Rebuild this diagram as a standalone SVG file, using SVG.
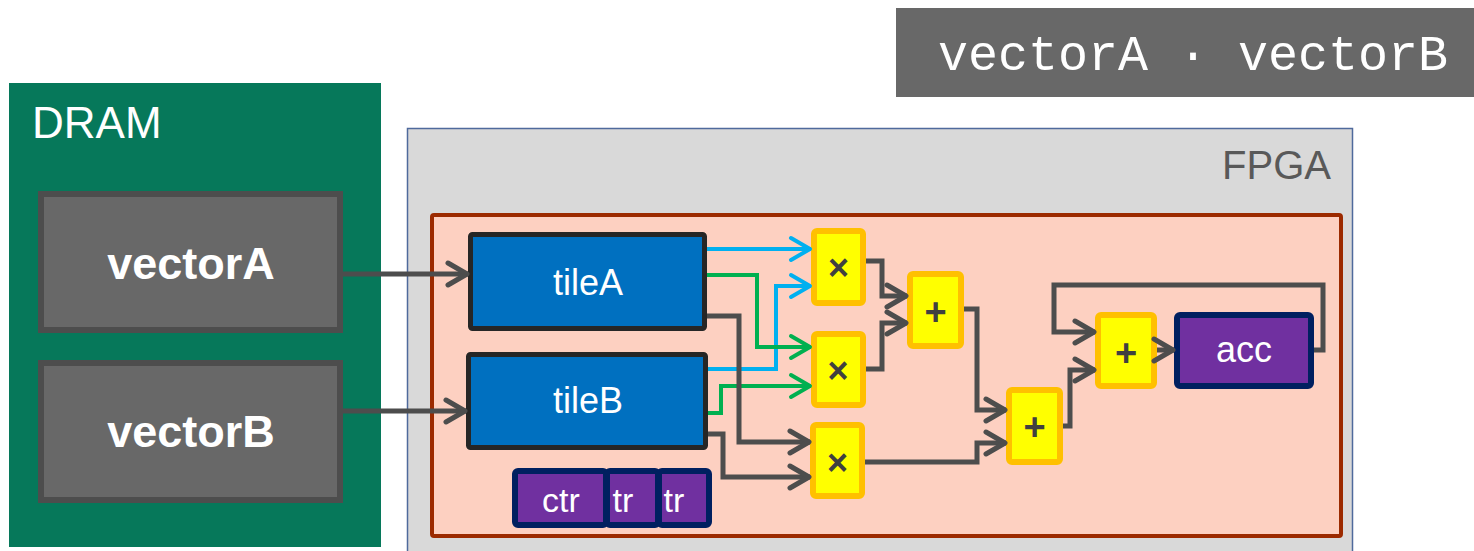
<svg xmlns="http://www.w3.org/2000/svg" width="1474" height="551" viewBox="0 0 1474 551">
<style>
.lbl{font-family:"Liberation Sans",Arial,sans-serif;fill:#fff;text-anchor:middle}
.op{font-family:"Liberation Sans",Arial,sans-serif;font-weight:bold;fill:#404040;text-anchor:middle}
.opbox{fill:#FFFF00;stroke:#FFC000;stroke-width:6}
.tile{fill:#0070C0;stroke:#262626;stroke-width:5}
.reg{fill:#7030A0;stroke:#002060;stroke-width:6}
.mem{fill:#686868;stroke:#4d4d4d;stroke-width:6}
.g{fill:none;stroke:#4d4d4d;stroke-width:5;stroke-linejoin:miter}
.b{fill:none;stroke:#00B0F0;stroke-width:4}
.gr{fill:none;stroke:#00B050;stroke-width:4}
</style>
<defs>
<marker id="ag" markerUnits="userSpaceOnUse" viewBox="-24 -14 28 28" refX="0" refY="0" markerWidth="28" markerHeight="28" orient="auto">
<path d="M-20,-11 L-1,0 L-20,11" fill="none" stroke="#4d4d4d" stroke-width="5" stroke-linecap="round" stroke-linejoin="round"/>
</marker>
<marker id="ab" markerUnits="userSpaceOnUse" viewBox="-24 -14 28 28" refX="0" refY="0" markerWidth="28" markerHeight="28" orient="auto">
<path d="M-20,-11 L-1,0 L-20,11" fill="none" stroke="#00B0F0" stroke-width="4" stroke-linecap="round" stroke-linejoin="round"/>
</marker>
<marker id="agr" markerUnits="userSpaceOnUse" viewBox="-24 -14 28 28" refX="0" refY="0" markerWidth="28" markerHeight="28" orient="auto">
<path d="M-20,-11 L-1,0 L-20,11" fill="none" stroke="#00B050" stroke-width="4" stroke-linecap="round" stroke-linejoin="round"/>
</marker>
</defs>
<rect width="1474" height="551" fill="#ffffff"/>

<g id="title">
<rect x="896" y="8" width="578" height="89" fill="#686868"/>
<text x="938" y="70" font-family="'Liberation Mono','DejaVu Sans Mono',monospace" font-size="50" fill="#ffffff">vectorA · vectorB</text>
</g>

<g id="dram">
<rect x="9" y="83" width="372" height="464" fill="#06785A"/>
<text x="32" y="138" font-family="'Liberation Sans',Arial,sans-serif" font-size="44" fill="#ffffff">DRAM</text>
</g>
<g id="vectorA">
<rect class="mem" x="41" y="194" width="299" height="136"/>
<text class="lbl" x="191" y="279" font-size="45" font-weight="bold">vectorA</text>
</g>
<g id="vectorB">
<rect class="mem" x="41" y="363" width="299" height="137"/>
<text class="lbl" x="191" y="447" font-size="45" font-weight="bold">vectorB</text>
</g>

<g id="fpga">
<rect x="407.5" y="128.5" width="945" height="440" fill="#D9D9D9" stroke="#4F6A9C" stroke-width="1.5"/>
<text x="1331" y="179" font-family="'Liberation Sans',Arial,sans-serif" font-size="40" fill="#595959" text-anchor="end">FPGA</text>
</g>
<g id="kernel">
<rect x="432" y="215" width="909" height="321" fill="#FDD0C1" stroke="#9C2A00" stroke-width="4" rx="2"/>
</g>

<g id="tileA">
<rect class="tile" x="470.5" y="234.5" width="234" height="94" rx="2"/>
<text class="lbl" x="588" y="295" font-size="36">tileA</text>
</g>
<g id="tileB">
<rect class="tile" x="468.5" y="354.5" width="237" height="93" rx="2"/>
<text class="lbl" x="588" y="413" font-size="36">tileB</text>
</g>

<g id="counters">
<rect class="reg" x="515" y="471" width="91" height="54" rx="3"/>
<text class="lbl" x="561" y="512" font-size="34">ctr</text>
<rect class="reg" x="607" y="471" width="51" height="54" rx="3"/>
<text class="lbl" x="623" y="512" font-size="34">tr</text>
<rect class="reg" x="659" y="471" width="50" height="54" rx="3"/>
<text class="lbl" x="674" y="512" font-size="34">tr</text>
</g>

<g id="mul1">
<rect class="opbox" x="814" y="231" width="49" height="72" rx="3"/>
<text class="op" x="838.5" y="280" font-size="36">×</text>
</g>
<g id="mul2">
<rect class="opbox" x="814" y="334" width="49" height="71" rx="3"/>
<text class="op" x="838" y="383" font-size="36">×</text>
</g>
<g id="mul3">
<rect class="opbox" x="813" y="425" width="49" height="71" rx="3"/>
<text class="op" x="837.5" y="475" font-size="36">×</text>
</g>
<g id="add1">
<rect class="opbox" x="910" y="274" width="51" height="72" rx="3"/>
<text class="op" x="935.5" y="325" font-size="38">+</text>
</g>
<g id="add2">
<rect class="opbox" x="1009" y="390" width="51" height="72" rx="3"/>
<text class="op" x="1034.5" y="440" font-size="38">+</text>
</g>
<g id="add3">
<rect class="opbox" x="1098" y="315" width="56" height="71" rx="3"/>
<text class="op" x="1126" y="366" font-size="38">+</text>
</g>
<g id="acc">
<rect class="reg" x="1177" y="315" width="134" height="71" rx="3"/>
<text class="lbl" x="1244" y="362" font-size="36">acc</text>
</g>

<g id="connectors">
<path class="g" d="M343,274 H468" marker-end="url(#ag)"/>
<path class="g" d="M343,411 H466" marker-end="url(#ag)"/>
<path class="b" d="M707,249 H811" marker-end="url(#ab)"/>
<path class="b" d="M708,369 H776 V286 H811" marker-end="url(#ab)"/>
<path class="gr" d="M707,275 H757 V347 H811" marker-end="url(#agr)"/>
<path class="gr" d="M708,413 H721 V386 H811" marker-end="url(#agr)"/>
<path class="g" d="M707,316 H739 V442 H810" marker-end="url(#ag)"/>
<path class="g" d="M708,434 H723 V477 H810" marker-end="url(#ag)"/>
<path class="g" d="M866,261 H882 V296 H907" marker-end="url(#ag)"/>
<path class="g" d="M866,369 H882 V323 H907" marker-end="url(#ag)"/>
<path class="g" d="M964,309 H977 V410 H1006" marker-end="url(#ag)"/>
<path class="g" d="M865,462 H977 V443 H1006" marker-end="url(#ag)"/>
<path class="g" d="M1063,426 H1070 V370 H1095" marker-end="url(#ag)"/>
<path class="g" d="M1157,350 H1174" marker-end="url(#ag)"/>
<path class="g" d="M1314,350 H1323 V285 H1054 V332 H1095" marker-end="url(#ag)"/>
</g>
</svg>
